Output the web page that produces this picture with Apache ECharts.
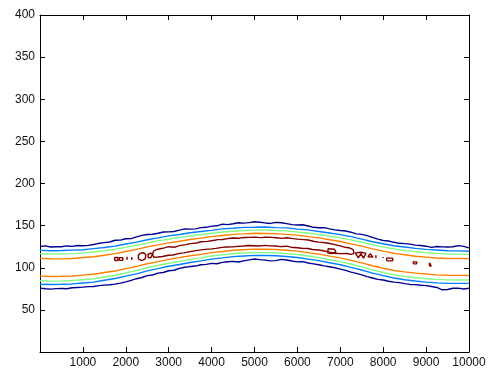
<!DOCTYPE html>
<html>
<head>
<meta charset="utf-8">
<script src="https://cdn.jsdelivr.net/npm/echarts@6/dist/echarts.min.js"></script>
<style>
  html, body { margin: 0; padding: 0; background: #ffffff; }
  #chart { width: 490px; height: 374px; }
</style>
</head>
<body>
<div id="chart"></div>
<script>
// Sample positions for the inner contour traces
const xs = [0, 250, 500, 750, 1000, 1250, 1500, 1750, 2000, 2250, 2500, 2750, 3000, 3250, 3500, 3750,
  4000, 4250, 4500, 4750, 5000, 5250, 5500, 5750, 6000, 6250, 6500, 6750, 7000, 7250, 7500, 7750,
  8000, 8250, 8500, 8750, 9000, 9250, 9500, 9750, 10000];

// Denser sample positions for the ragged outer level
const xsFine = [0, 125, 250, 375, 500, 625, 750, 875, 1000, 1125, 1250, 1375, 1500, 1625, 1750, 1875,
  2000, 2125, 2250, 2375, 2500, 2625, 2750, 2875, 3000, 3125, 3250, 3375, 3500, 3625, 3750, 3875,
  4000, 4125, 4250, 4375, 4500, 4625, 4750, 4875, 5000, 5125, 5250, 5375, 5500, 5625, 5750, 5875,
  6000, 6125, 6250, 6375, 6500, 6625, 6750, 6875, 7000, 7125, 7250, 7375, 7500, 7625, 7750, 7875,
  8000, 8125, 8250, 8375, 8500, 8625, 8750, 8875, 9000, 9125, 9250, 9375, 9500, 9625, 9750, 9875, 10000];

// Outermost level (dark blue), upper and lower branch
const blueUpper = [125.3, 126.0, 124.6, 124.9, 125.0, 125.9, 125.4, 126.4, 126.2, 126.6, 127.6, 129.0, 129.8, 130.6, 132.6, 132.8,
  134.4, 134.6, 136.6, 138.4, 139.4, 139.8, 141.0, 142.4, 142.6, 143.0, 144.6, 146.2, 145.8, 146.2, 147.6, 148.0,
  149.4, 149.8, 151.8, 151.2, 152.2, 153.4, 153.0, 153.6, 154.6, 154.0, 153.2, 152.6, 153.8, 153.4, 152.4, 151.2,
  150.8, 151.0, 149.6, 148.0, 147.4, 147.6, 146.2, 145.0, 144.2, 143.6, 142.2, 140.2, 139.6, 138.2, 136.0, 134.0,
  132.4, 131.8, 130.2, 129.0, 128.6, 128.0, 126.8, 126.4, 125.6, 124.2, 125.2, 124.8, 124.6, 125.0, 126.2, 125.4, 123.6];
const blueLower = [75.8, 75.0, 74.6, 75.2, 75.4, 75.0, 76.2, 76.6, 77.0, 77.6, 77.8, 78.8, 79.4, 79.8, 80.6, 81.8,
  83.2, 85.0, 87.0, 88.4, 90.6, 91.4, 93.6, 94.4, 96.4, 97.0, 99.2, 100.6, 101.4, 102.0, 103.6, 104.0,
  105.2, 104.8, 106.4, 107.2, 107.6, 106.8, 108.2, 109.4, 110.4, 109.6, 109.0, 108.2, 108.4, 110.0, 109.2, 108.0,
  107.0, 107.2, 105.6, 104.6, 103.6, 102.2, 101.2, 100.0, 98.4, 96.8, 94.8, 93.4, 91.6, 89.4, 87.8, 86.2,
  85.4, 84.0, 83.0, 82.4, 81.2, 80.2, 80.0, 79.2, 78.8, 77.8, 76.6, 73.8, 74.2, 75.6, 75.8, 74.8, 75.6];

// Second level (light blue)
const skyUpper = [120.6, 120.2, 120.4, 120.9, 121.4, 122.7, 124.0, 125.7, 128.2, 130.4, 133.3, 135.4, 137.8, 139.5, 141.6, 143.0,
  144.4, 146.2, 146.8, 147.9, 148.0, 148.4, 147.6, 147.3, 145.9, 144.9, 143.0, 141.3, 139.3, 136.9, 134.0, 130.9,
  128.5, 126.1, 124.6, 123.0, 121.8, 121.1, 120.2, 120.0, 119.6];
const skyLower = [80.4, 80.1, 80.4, 80.8, 81.9, 83.0, 85.1, 87.2, 90.0, 92.8, 96.3, 99.0, 101.8, 103.9, 106.3, 108.1,
  110.3, 111.7, 113.2, 114.0, 114.7, 114.5, 114.3, 113.3, 112.2, 110.3, 108.4, 105.9, 103.6, 100.4, 97.3, 93.6,
  90.6, 87.8, 85.8, 84.2, 82.9, 82.0, 81.5, 81.4, 81.4];

// Third level (light green)
const greenUpper = [116.5, 116.2, 116.3, 116.8, 117.4, 118.7, 120.1, 122.1, 124.2, 126.9, 129.3, 131.9, 133.8, 136.0, 137.7, 139.5,
  140.9, 142.5, 143.3, 144.3, 144.6, 144.8, 144.2, 143.8, 142.5, 141.3, 139.4, 137.7, 135.4, 133.1, 130.2, 127.4,
  124.5, 122.4, 120.5, 119.2, 117.8, 117.1, 116.3, 116.2, 115.9];
const greenLower = [84.5, 84.1, 84.4, 84.8, 85.8, 86.9, 89.0, 91.1, 93.9, 96.7, 100.1, 102.7, 105.4, 107.6, 110.0, 111.7,
  113.9, 115.3, 116.7, 117.5, 118.2, 118.0, 117.8, 116.8, 115.7, 113.9, 112.0, 109.5, 107.2, 104.1, 101.0, 97.4,
  94.4, 91.6, 89.7, 88.2, 87.0, 86.2, 85.6, 85.5, 85.5];

// Fourth level (orange)
const orangeUpper = [111.1, 110.7, 110.5, 111.0, 112.1, 113.1, 114.9, 116.8, 119.3, 121.8, 124.8, 127.1, 129.5, 131.4, 133.6, 135.1,
  137.0, 138.3, 139.6, 140.2, 140.9, 140.7, 140.5, 139.6, 138.7, 137.0, 135.4, 133.2, 131.2, 128.4, 125.7, 122.4,
  119.7, 117.1, 115.4, 113.7, 112.6, 111.5, 111.0, 110.9, 110.8];
const orangeLower = [90.0, 89.7, 89.9, 90.2, 91.3, 92.3, 94.3, 96.2, 98.9, 101.6, 104.8, 107.3, 109.9, 112.0, 114.2, 115.9,
  118.0, 119.3, 120.7, 121.4, 122.1, 121.9, 121.7, 120.8, 119.7, 118.0, 116.2, 113.8, 111.7, 108.7, 105.8, 102.4,
  99.4, 96.8, 95.1, 93.6, 92.5, 91.6, 91.1, 90.9, 90.8];

// Innermost level (dark red): main closed ring along the crest, traced as [x, y]
const crestRing = [
  [2620, 116.0], [2650, 120.0], [2750, 122.0], [2900, 123.6], [3000, 125.0], [3150, 124.4], [3250, 126.2], [3400, 127.4],
  [3500, 128.6], [3650, 129.4], [3750, 130.9], [3900, 131.3], [4000, 132.1], [4150, 133.4], [4250, 133.6], [4400, 134.8],
  [4500, 135.3], [4650, 135.1], [4750, 135.9], [4900, 136.0], [5000, 136.4], [5150, 135.7], [5250, 136.2], [5400, 136.0],
  [5500, 135.6], [5650, 134.9], [5750, 135.6], [5900, 134.6], [6000, 134.0], [6150, 133.4], [6250, 133.0], [6400, 131.2],
  [6500, 130.4], [6650, 129.6], [6750, 128.8], [6900, 127.2], [7000, 126.0], [7100, 124.4], [7200, 123.8], [7300, 121.5],
  [7320, 117.0], [7250, 115.8], [7150, 116.9], [7000, 116.8], [6850, 117.2], [6750, 118.6], [6600, 120.2], [6500, 121.0],
  [6350, 121.6], [6250, 122.8], [6100, 123.2], [6000, 123.8], [5850, 124.4], [5750, 125.6], [5600, 125.1], [5500, 125.8],
  [5350, 126.0], [5250, 126.6], [5100, 125.9], [5000, 126.2], [4850, 126.4], [4750, 125.8], [4600, 125.4], [4500, 124.8],
  [4350, 124.6], [4250, 124.2], [4100, 123.0], [4000, 122.4], [3850, 121.8], [3750, 121.2], [3600, 120.0], [3500, 119.2],
  [3350, 117.6], [3250, 117.0], [3100, 115.2], [3000, 114.8], [2850, 113.4], [2750, 112.8], [2650, 112.4], [2620, 116.0]
];

// Small dark-red islands on either side of the ring
const crestIslands = [
  [[1740, 108.6], [1740, 112.2], [1820, 112.2], [1820, 108.6], [1740, 108.6]],
  [[1850, 108.8], [1850, 112.0], [1930, 112.0], [1930, 108.8], [1850, 108.8]],
  [[2030, 109.4], [2030, 113.0]],
  [[2140, 109.2], [2140, 112.8]],
  [[2300, 110.0], [2290, 114.6], [2340, 117.4], [2420, 117.8], [2470, 115.2], [2450, 110.6], [2380, 108.6], [2300, 110.0]],
  [[2520, 112.0], [2520, 116.0], [2580, 117.2], [2630, 116.2], [2580, 111.8], [2520, 112.0]],
  [[6700, 117.8], [6720, 122.6], [6860, 122.0], [6900, 118.4], [6780, 116.8], [6700, 117.8]],
  [[7350, 117.6], [7420, 111.6], [7480, 116.8], [7540, 111.4], [7600, 117.0], [7560, 118.0], [7480, 118.4], [7350, 117.6]],
  [[7640, 113.0], [7700, 116.6], [7760, 112.6], [7640, 113.0]],
  [[7830, 111.4], [7830, 114.8]],
  [[8000, 111.6], [8000, 112.8]],
  [[8080, 108.2], [8080, 111.4], [8220, 111.4], [8220, 108.2], [8080, 108.2]],
  [[8700, 104.6], [8700, 107.0], [8780, 107.0], [8780, 104.6], [8700, 104.6]],
  [[9080, 102.0], [9080, 105.8], [9120, 105.8], [9120, 102.0], [9080, 102.0]]
];

// Level colours, outer to inner
const levelColors = {
  blue: '#00008F',
  sky: '#0080FF',
  green: '#80FF80',
  orange: '#FF8000',
  red: '#800000'
};

const traces = [
  { x: xsFine, values: blueUpper, color: levelColors.blue },
  { x: xsFine, values: blueLower, color: levelColors.blue },
  { x: xs, values: skyUpper, color: levelColors.sky },
  { x: xs, values: skyLower, color: levelColors.sky },
  { x: xs, values: greenUpper, color: levelColors.green },
  { x: xs, values: greenLower, color: levelColors.green },
  { x: xs, values: orangeUpper, color: levelColors.orange },
  { x: xs, values: orangeLower, color: levelColors.orange }
];

function lineSeries(points, color) {
  return {
    type: 'line',
    data: points,
    symbol: 'none',
    silent: true,
    lineStyle: { color: color, width: 1.4 },
    xAxisIndex: 0,
    yAxisIndex: 0
  };
}

const series = traces.map(t => lineSeries(t.x.map((x, i) => [x, t.values[i]]), t.color));
series.push(lineSeries(crestRing, levelColors.red));
crestIslands.forEach(isl => series.push(lineSeries(isl, levelColors.red)));

const labelFont = { color: '#111', fontFamily: 'Liberation Sans, Arial, sans-serif', fontSize: 12 };
const frameLine = { show: true, onZero: false, lineStyle: { color: '#000', width: 1 } };
const innerTick = { show: true, inside: true, length: 5, lineStyle: { color: '#000', width: 1 } };
const plainNumber = v => String(v);

const chart = echarts.init(document.getElementById('chart'), null, { renderer: 'canvas' });
chart.setOption({
  animation: false,
  backgroundColor: '#ffffff',
  grid: { left: 40, right: 21, top: 15, bottom: 22, containLabel: false, outerBoundsMode: 'none' },
  xAxis: [
    {
      type: 'value', position: 'bottom', min: 0, max: 10000, interval: 1000,
      axisLine: frameLine, axisTick: innerTick,
      axisLabel: Object.assign({ showMinLabel: false, margin: 5, formatter: plainNumber }, labelFont),
      splitLine: { show: false }
    },
    {
      type: 'value', position: 'top', min: 0, max: 10000, interval: 1000,
      axisLine: frameLine, axisTick: innerTick,
      axisLabel: { show: false }, splitLine: { show: false }
    }
  ],
  yAxis: [
    {
      type: 'value', position: 'left', min: 0, max: 400, interval: 50,
      axisLine: frameLine, axisTick: innerTick,
      axisLabel: Object.assign({ showMinLabel: false, margin: 5, formatter: plainNumber }, labelFont),
      splitLine: { show: false }
    },
    {
      type: 'value', position: 'right', min: 0, max: 400, interval: 50,
      axisLine: frameLine, axisTick: innerTick,
      axisLabel: { show: false }, splitLine: { show: false }
    }
  ],
  series: series
});
</script>
</body>
</html>
